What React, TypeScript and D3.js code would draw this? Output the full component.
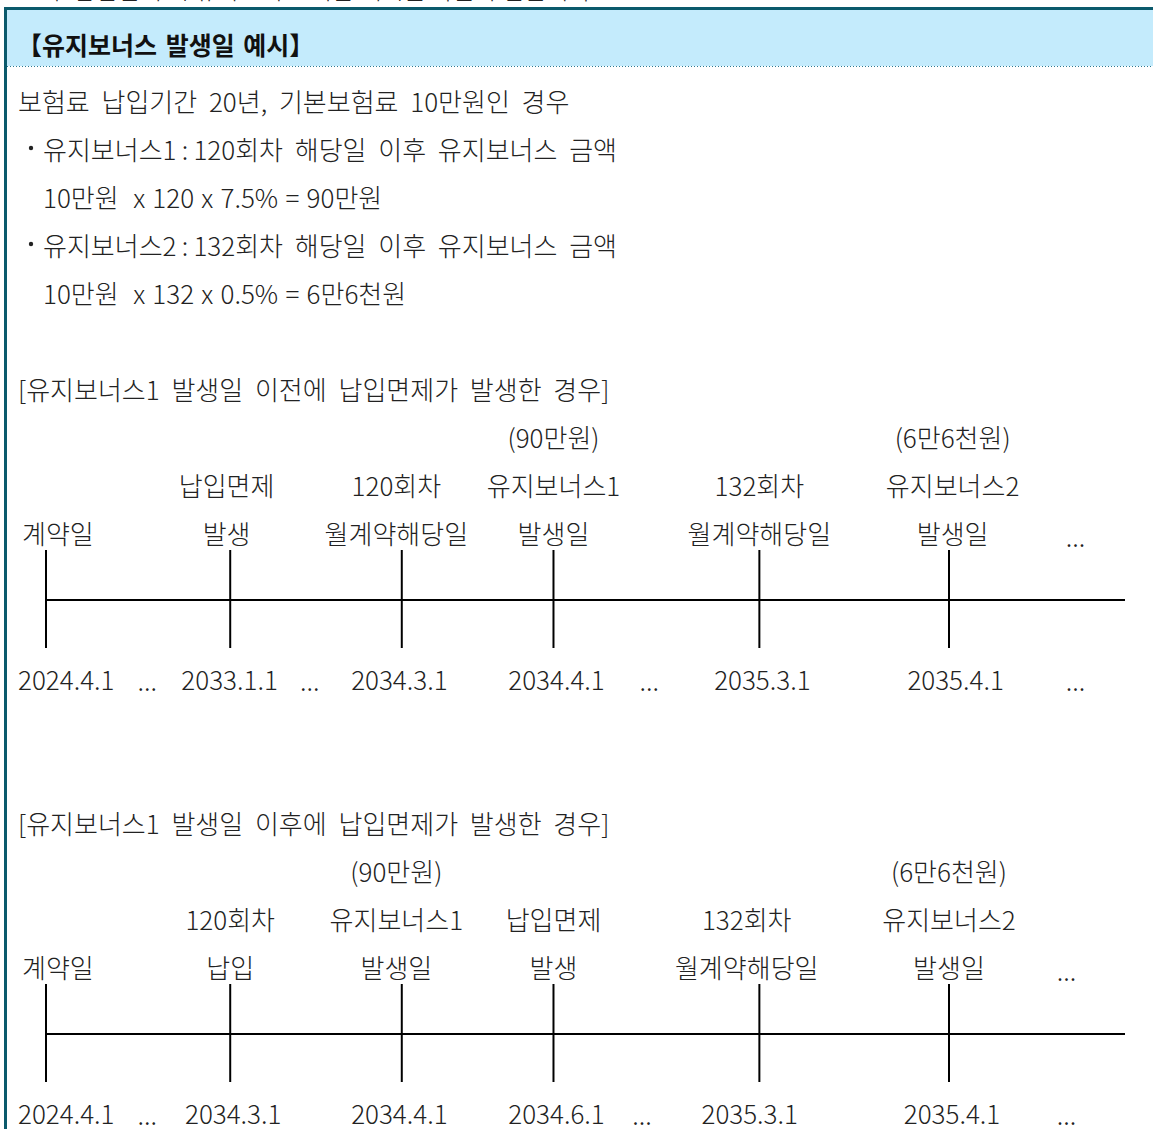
import React from "react";
import * as d3 from "d3";

const W = 1153;
const H = 1129;

const cutText = "나. 납입면제 시 유지보너스 지급 예시는 다음과 같습니다.";
const headerTitle = "【유지보너스 발생일 예시】";
const introLines = [
  { bullet: false, indent: false, formula: false, text: "보험료 납입기간 20년, 기본보험료 10만원인 경우" },
  { bullet: true, indent: true, formula: false, text: "유지보너스1\u2009:\u2009120회차 해당일 이후 유지보너스 금액" },
  { bullet: false, indent: true, formula: true, text: "10만원  x 120 x 7.5% = 90만원" },
  { bullet: true, indent: true, formula: false, text: "유지보너스2\u2009:\u2009132회차 해당일 이후 유지보너스 금액" },
  { bullet: false, indent: true, formula: true, text: "10만원  x 132 x 0.5% = 6만6천원" },
];

const timelineTitles = [
  "[유지보너스1 발생일 이전에 납입면제가 발생한 경우]",
  "[유지보너스1 발생일 이후에 납입면제가 발생한 경우]",
];

const timeline1Events = [
  { top: "", mid: "", bot: "계약일", date: "2024.4.1", slot: 0, labelSlot: 0 },
  { top: "", mid: "납입면제", bot: "발생", date: "2033.1.1", slot: 1.02, labelSlot: 1.0 },
  { top: "", mid: "120회차", bot: "월계약해당일", date: "2034.3.1", slot: 1.97, labelSlot: 1.94 },
  { top: "(90만원)", mid: "유지보너스1", bot: "발생일", date: "2034.4.1", slot: 2.81, labelSlot: 2.81 },
  { top: "", mid: "132회차", bot: "월계약해당일", date: "2035.3.1", slot: 3.95, labelSlot: 3.95 },
  { top: "(6만6천원)", mid: "유지보너스2", bot: "발생일", date: "2035.4.1", slot: 5, labelSlot: 5.02 },
];
const timeline1Gaps = [0.56, 1.46, 3.34, 5.7];

const timeline2Events = [
  { top: "", mid: "", bot: "계약일", date: "2024.4.1", slot: 0, labelSlot: 0 },
  { top: "", mid: "120회차", bot: "납입", date: "2034.3.1", slot: 1.02, labelSlot: 1.02 },
  { top: "(90만원)", mid: "유지보너스1", bot: "발생일", date: "2034.4.1", slot: 1.97, labelSlot: 1.94 },
  { top: "", mid: "납입면제", bot: "발생", date: "2034.6.1", slot: 2.81, labelSlot: 2.81 },
  { top: "", mid: "132회차", bot: "월계약해당일", date: "2035.3.1", slot: 3.95, labelSlot: 3.88 },
  { top: "(6만6천원)", mid: "유지보너스2", bot: "발생일", date: "2035.4.1", slot: 5, labelSlot: 5.0 },
];
const timeline2Gaps = [0.56, 3.3, 5.65];

const timelines = [
  { title: timelineTitles[0], events: timeline1Events, gaps: timeline1Gaps, y0: 388 },
  { title: timelineTitles[1], events: timeline2Events, gaps: timeline2Gaps, y0: 822 },
];

const FONT = "'Noto Sans CJK KR', 'Noto Sans', sans-serif";
const TEXT = "#222";
const BORDER = "#0b5a6c";
const HEADER_BG = "#c4ebfc";
const FS = 26;
const WEIGHT = 300;

const x = d3.scaleLinear().domain([0, 5]).range([46, 949]);

function Timeline({ t }: { t: typeof timelines[number] }) {
  const y0 = t.y0;
  const rowTop = y0 + 48;
  const rowMid = y0 + 96;
  const rowBot = y0 + 144;
  const tickTop = y0 + 162;
  const tickBot = y0 + 260;
  const axisY = y0 + 212;
  const dateY = y0 + 290;
  const last = t.gaps[t.gaps.length - 1];
  const common = { fontSize: FS, fill: TEXT, fontWeight: WEIGHT, dominantBaseline: "central" as const };
  return (
    <g>
      <text x={18} y={y0} {...common} wordSpacing={6}>{t.title}</text>
      <line x1={x(0)} x2={1125} y1={axisY} y2={axisY} stroke="#000" strokeWidth={2} />
      {t.events.map((e, i) => {
        const cx = x(e.slot);
        const lc = x(e.labelSlot);
        const anchor = i === 0 ? "start" : "middle";
        const lx = i === 0 ? cx - 24 : lc;
        const dx = i === 0 ? cx - 28 : lc + 3;
        return (
          <g key={i}>
            <line x1={cx} x2={cx} y1={tickTop} y2={tickBot} stroke="#000" strokeWidth={2} />
            {e.top && <text x={lx} y={rowTop} textAnchor={anchor} {...common}>{e.top}</text>}
            {e.mid && <text x={lx} y={rowMid} textAnchor={anchor} {...common}>{e.mid}</text>}
            {e.bot && <text x={lx} y={rowBot} textAnchor={anchor} {...common}>{e.bot}</text>}
            <text x={dx} y={dateY} textAnchor={anchor} {...common}>{e.date}</text>
          </g>
        );
      })}
      {t.gaps.map((g, i) => (
        <text key={i} x={x(g)} y={dateY + 1} textAnchor="middle" {...common}>...</text>
      ))}
      <text x={x(last)} y={rowBot + 3} textAnchor="middle" {...common}>...</text>
    </g>
  );
}

export default function App() {
  return (
    <svg
      width={W}
      height={H}
      style={{ position: "absolute", left: 0, top: 0, background: "#fff" }}
      fontFamily={FONT}
    >
      <rect x={0} y={0} width={W} height={H} fill="#fff" />
      <text x={40} y={-1} fontSize={24} fill={TEXT} fontWeight={WEIGHT}>{cutText}</text>
      <rect x={5.5} y={10} width={W} height={56} fill={HEADER_BG} />
      <line x1={4} x2={W} y1={8.5} y2={8.5} stroke={BORDER} strokeWidth={3} />
      <line x1={5.5} x2={5.5} y1={7} y2={H} stroke={BORDER} strokeWidth={3} />
      <line x1={7} x2={W} y1={66.5} y2={66.5} stroke="#2b7a92" strokeWidth={1} strokeDasharray="1 2" />
      <text x={17} y={44} fontSize={25} fontWeight="bold" fill="#111" dominantBaseline="central" wordSpacing={3}>{headerTitle}</text>
      {introLines.map((l, i) => (
        <g key={i}>
          {l.bullet && <circle cx={31} cy={100 + i * 48} r={2.2} fill={TEXT} />}
          <text
            x={l.indent ? 43 : 18}
            y={100 + i * 48}
            fontSize={FS}
            fill={TEXT}
            fontWeight={WEIGHT}
            dominantBaseline="central"
            wordSpacing={l.formula ? 1.5 : 6}
            style={{ whiteSpace: "pre" }}
          >
            {l.text}
          </text>
        </g>
      ))}
      {timelines.map((t, i) => (
        <Timeline key={i} t={t} />
      ))}
    </svg>
  );
}
